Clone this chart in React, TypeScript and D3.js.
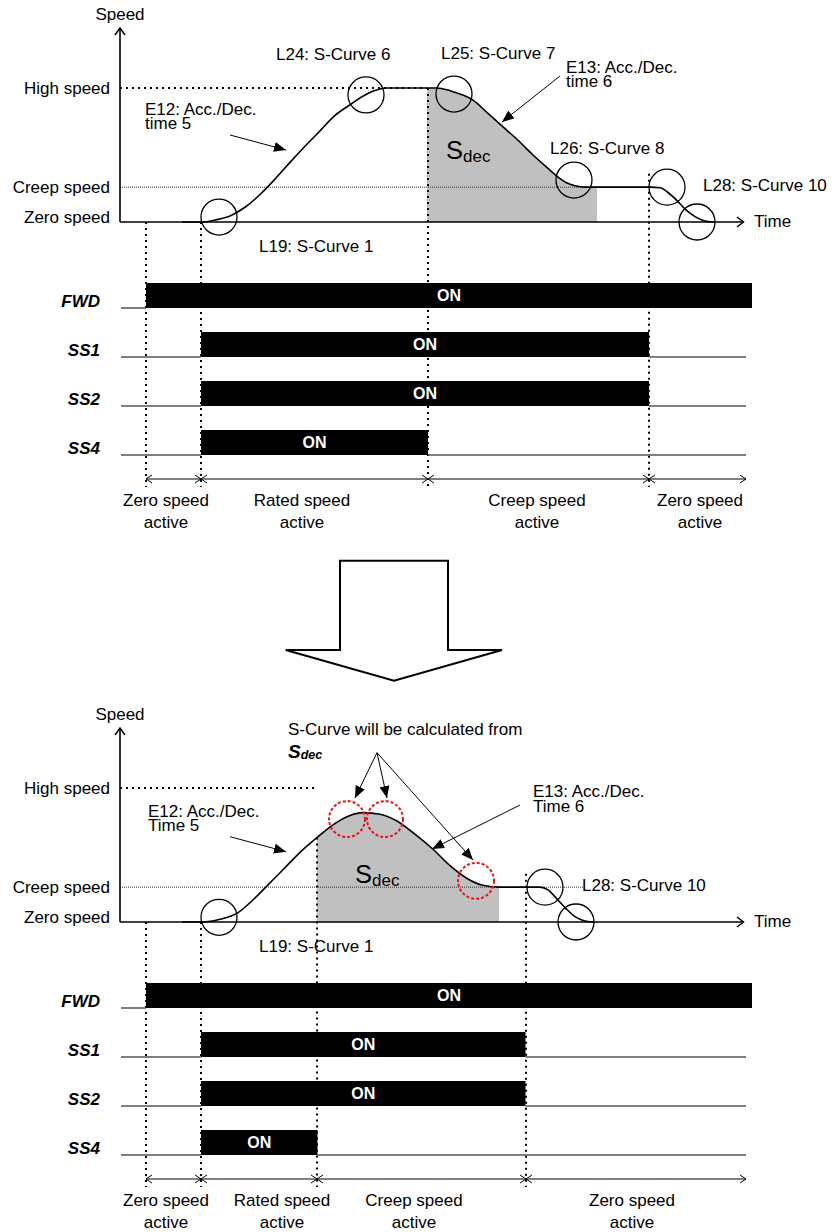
import React from "react";
import * as d3 from "d3";

const W = 832;
const H = 1232;
const FONT = "'Liberation Sans', Arial, Helvetica, sans-serif";

// ---- data: time in units (0..311), speed in % of high speed ----
const speedLevelNames = ["High speed", "Creep speed", "Zero speed"];
const speedLevelValues = [100, 26, 0];

const topProfile: [number, number][] = [
  [31, 0], [41, 0], [47.5, 1.5], [55, 4.5], [62.5, 11], [70, 20.5], [77.5, 32], [85, 44.5],
  [92.5, 56.5], [100, 68], [107.5, 79.5], [115, 87.5], [121, 93.5], [127, 98], [133.5, 100],
  [158.5, 100], [165, 98], [171, 95], [176.5, 91], [184, 81], [191.5, 71], [199, 61],
  [206.5, 50], [214, 40], [219, 33.5], [223, 29.5], [227.5, 27], [232.5, 26],
  [265, 26], [270, 25.5], [274, 22], [278.5, 16], [283, 9], [287.5, 4], [292, 1], [296.5, 0],
];
const bottomProfile: [number, number][] = [
  [31, 0], [41, 0], [50, 2], [59, 7], [66.5, 16.5], [73.5, 27], [81.5, 39], [90, 52],
  [98.5, 63], [106.5, 72.5], [115, 79.5], [121.5, 81.6], [130, 80.4], [138.5, 75.4],
  [146.5, 66.7], [156.5, 54.3], [165, 42], [173.5, 32.5], [181.5, 27.4], [190, 26], [210, 26], [214, 24],
  [218, 18], [223, 10], [227.5, 4], [232, 1], [236.5, 0],
];

const signalNames = ["FWD", "SS1", "SS2", "SS4"];
const topSignalOn: [number, number][] = [[13, 316], [40.5, 264.5], [40.5, 264.5], [40.5, 154]];
const bottomSignalOn: [number, number][] = [[13, 316], [40.5, 202.75], [40.5, 202.75], [40.5, 98.75]];
const signalEnd = 313;

const topPhaseBounds = [13, 40.5, 154, 264.5, 313];
const bottomPhaseBounds = [13, 40.5, 98.5, 203, 313];
const topMarkerStartSpeed = [0, 0, 100, 36];
const bottomMarkerStartSpeed = [0, 0, 63, 36];
const topPhaseLabels = [["Zero speed", "active"], ["Rated speed", "active"], ["Creep speed", "active"], ["Zero speed", "active"]];
const bottomPhaseLabels = [["Zero speed", "active"], ["Rated speed", "active"], ["Creep speed", "active"], ["Zero speed", "active"]];
const topPhaseLabelT = [23, 91, 208.5, 290];
const bottomPhaseLabelT = [23, 81, 147, 256];

const topShade: [number, number] = [153.5, 238.5];
const bottomShade: [number, number] = [98.5, 189.5];
const topHighLineEnd = 153.5;
const bottomHighLineEnd = 98.5;
const topCreepLineEnd = 265;
const bottomCreepLineEnd = 231.5;

const topCircles: [number, number][] = [[49.5, 3.7], [123, 94.8], [167, 95.5], [227, 31.3], [273.5, 26], [288.5, 0]];
const bottomCircles: [number, number][] = [[49.5, 3.5], [212.5, 26], [228, 0]];
const bottomRedCircles: [number, number][] = [[113.5, 76.8], [132.5, 76.8], [178, 30.7]];

// ---- scales ----
const x = d3.scaleLinear().domain([0, 311]).range([120, 742]);
const y = d3.scaleLinear().domain([0, 100]).range([222, 88]);

const line = d3.line<[number, number]>().x((d) => x(d[0])).y((d) => y(d[1])).curve(d3.curveMonotoneX);
const area = d3.area<[number, number]>().x((d) => x(d[0])).y0(y(0)).y1((d) => y(d[1])).curve(d3.curveMonotoneX);

const ROW_TOP = [283, 332, 381, 430];
const BAR_H = 25;
const PHASE_Y = 479;
const R = 18;

function Chevron({ px, py, dir }: { px: number; py: number; dir: number }) {
  return (
    <path d={`M${px - dir * 6},${py - 4}L${px},${py}L${px - dir * 6},${py + 4}`} fill="none" stroke="#000" strokeWidth={1} />
  );
}

function Arrow({ x1, y1, x2, y2, id }: { x1: number; y1: number; x2: number; y2: number; id: string }) {
  return <line x1={x1} y1={y1} x2={x2} y2={y2} stroke="#000" strokeWidth={1} markerEnd={`url(#${id})`} />;
}

function Txt({ x: tx, y: ty, children, anchor = "start", size = 17, weight = "normal", style = "normal", fill = "#000" }: any) {
  return (
    <text x={tx} y={ty} textAnchor={anchor} fontSize={size} fontWeight={weight} fontStyle={style} fill={fill} fontFamily={FONT}>
      {children}
    </text>
  );
}

function Txt2({ x: tx, y: ty, lines, gap }: { x: number; y: number; lines: string[]; gap: number }) {
  return (
    <text x={tx} y={ty} fontSize={17} fill="#000" fontFamily={FONT}>
      <tspan x={tx}>{lines[0]}</tspan>
      <tspan x={tx} dy={gap}>{lines[1]}</tspan>
    </text>
  );
}

function Panel({ dy, profile, signalOn, bounds, markerStart, phaseLabels, phaseLabelT, shade, highEnd, creepEnd, circles, redCircles, clipId, children }: any) {
  const curvePath = line(profile) || "";
  const areaPath = area(profile) || "";
  return (
    <g transform={`translate(0,${dy})`}>
      <defs>
        <clipPath id={clipId}>
          <rect x={x(shade[0])} y={0} width={x(shade[1]) - x(shade[0])} height={300} />
        </clipPath>
      </defs>
      <path d={areaPath} fill="#c0c0c0" clipPath={`url(#${clipId})`} />
      {/* speed level lines */}
      <line x1={x(0)} x2={x(highEnd)} y1={y(speedLevelValues[0])} y2={y(speedLevelValues[0])} stroke="#000" strokeWidth={2} strokeDasharray="2 4" />
      <line x1={x(0)} x2={x(creepEnd)} y1={y(speedLevelValues[1])} y2={y(speedLevelValues[1])} stroke="#333" strokeWidth={1} strokeDasharray="1 1" />
      {speedLevelNames.map((n, i) => (
        <Txt key={n} x={110} y={y(speedLevelValues[i]) + (i === 2 ? 1 : 6)} anchor="end">{n}</Txt>
      ))}
      {/* axes */}
      <line x1={x(0)} x2={x(0)} y1={y(0)} y2={28} stroke="#000" strokeWidth={1.6} />
      <path d={`M${x(0) - 5},35L${x(0)},28L${x(0) + 5},35`} fill="none" stroke="#000" strokeWidth={1.5} />
      <line x1={x(0)} x2={743} y1={y(0)} y2={y(0)} stroke="#000" strokeWidth={1.6} />
      <path d={`M737,${y(0) - 5}L743.5,${y(0)}L737,${y(0) + 5}`} fill="none" stroke="#000" strokeWidth={1.5} />
      <Txt x={120} y={19.5} anchor="middle">Speed</Txt>
      <Txt x={754} y={227}>Time</Txt>
      {/* curve */}
      <path d={curvePath} fill="none" stroke="#000" strokeWidth={1.6} />
      {circles.map((c: [number, number], i: number) => (
        <circle key={i} cx={x(c[0])} cy={y(c[1])} r={R} fill="none" stroke="#000" strokeWidth={1.3} />
      ))}
      {redCircles.map((c: [number, number], i: number) => (
        <circle key={i} cx={x(c[0])} cy={y(c[1])} r={R} fill="none" stroke="#ee1111" strokeWidth={2} strokeDasharray="3 2" />
      ))}
      {/* vertical dotted markers */}
      {bounds.slice(0, 4).map((b: number, i: number) => (
        <line key={i} x1={x(b)} x2={x(b)} y1={y(markerStart[i])} y2={487} stroke="#000" strokeWidth={2} strokeDasharray="2 4" />
      ))}
      {/* signals */}
      {signalNames.map((n, i) => {
        const top = ROW_TOP[i];
        const bot = top + BAR_H;
        const [s, e] = signalOn[i];
        return (
          <g key={n}>
            <line x1={121} x2={x(s)} y1={bot} y2={bot} stroke="#555" strokeWidth={1.5} />
            {e < signalEnd && <line x1={x(e)} x2={x(signalEnd)} y1={bot} y2={bot} stroke="#555" strokeWidth={1.5} />}
            <rect x={x(s)} y={top} width={x(e) - x(s)} height={BAR_H} fill="#000" />
            <Txt x={(x(s) + x(e)) / 2} y={top + 18} anchor="middle" size={16} weight="bold" fill="#fff">ON</Txt>
            <Txt x={100} y={bot - 1} anchor="end" weight="bold" style="italic">{n}</Txt>
          </g>
        );
      })}
      {/* phase intervals */}
      {bounds.slice(0, 4).map((b: number, i: number) => (
        <g key={i}>
          <line x1={x(b)} x2={x(bounds[i + 1])} y1={PHASE_Y} y2={PHASE_Y} stroke="#000" strokeWidth={1} />
          <Chevron px={x(b)} py={PHASE_Y} dir={-1} />
          <Chevron px={x(bounds[i + 1])} py={PHASE_Y} dir={1} />
          <Txt x={x(phaseLabelT[i])} y={506} anchor="middle">{phaseLabels[i][0]}</Txt>
          <Txt x={x(phaseLabelT[i])} y={528} anchor="middle">{phaseLabels[i][1]}</Txt>
        </g>
      ))}
      {children}
    </g>
  );
}

function Sdec({ sx, sy }: { sx: number; sy: number }) {
  return (
    <text x={sx} y={sy} fontFamily={FONT} fill="#000">
      <tspan fontSize={25.5}>S</tspan>
      <tspan fontSize={17} dy={3}>dec</tspan>
    </text>
  );
}

export default function App() {
  return (
    <svg width={W} height={H} style={{ display: "block", position: "absolute", left: 0, top: 0, background: "#fff" }}>
      <defs>
        <marker id="ah" viewBox="0 0 12 10" refX="12" refY="5" markerWidth="12" markerHeight="10" markerUnits="userSpaceOnUse" orient="auto">
          <path d="M0,0L12,5L0,10Z" fill="#000" />
        </marker>
      </defs>
      <rect x={0} y={0} width={W} height={H} fill="#fff" />
      <Panel dy={0} profile={topProfile} signalOn={topSignalOn} bounds={topPhaseBounds} markerStart={topMarkerStartSpeed}
        phaseLabels={topPhaseLabels} phaseLabelT={topPhaseLabelT} shade={topShade} highEnd={topHighLineEnd}
        creepEnd={topCreepLineEnd} circles={topCircles} redCircles={[]} clipId="clipTop">
        <Txt x={276} y={60}>L24: S-Curve 6</Txt>
        <Txt x={441} y={59}>L25: S-Curve 7</Txt>
        <Txt2 x={566} y={73} gap={14} lines={["E13: Acc./Dec.", "time 6"]} />
        <Txt x={550} y={154}>L26: S-Curve 8</Txt>
        <Txt x={703} y={191}>L28: S-Curve 10</Txt>
        <Txt2 x={145} y={115} gap={14.3} lines={["E12: Acc./Dec.", "time 5"]} />
        <Txt x={259} y={252}>L19: S-Curve 1</Txt>
        <Sdec sx={446} sy={159} />
        <Arrow x1={230} y1={135} x2={286} y2={150} id="ah" />
        <Arrow x1={560} y1={76} x2={502} y2={122} id="ah" />
      </Panel>

      {/* big down arrow */}
      <path d="M340,560.7L448,560.7L448,650L502,650L394,680.7L285.7,650L340,650Z" fill="#fff" stroke="#000" strokeWidth={2} strokeLinejoin="miter" />

      <Panel dy={700} profile={bottomProfile} signalOn={bottomSignalOn} bounds={bottomPhaseBounds} markerStart={bottomMarkerStartSpeed}
        phaseLabels={bottomPhaseLabels} phaseLabelT={bottomPhaseLabelT} shade={bottomShade} highEnd={bottomHighLineEnd}
        creepEnd={bottomCreepLineEnd} circles={bottomCircles} redCircles={bottomRedCircles} clipId="clipBottom">
        <Txt x={288} y={35}>S-Curve will be calculated from</Txt>
        <text x={288} y={57.5} fontFamily={FONT} fontWeight="bold" fontStyle="italic" fill="#000">
          <tspan fontSize={19}>S</tspan>
          <tspan fontSize={12.5} dy={1}>dec</tspan>
        </text>
        <Txt2 x={148} y={116.5} gap={14.5} lines={["E12: Acc./Dec.", "Time 5"]} />
        <Txt2 x={533} y={96.5} gap={15.5} lines={["E13: Acc./Dec.", "Time 6"]} />
        <Txt x={582} y={191}>L28: S-Curve 10</Txt>
        <Txt x={259} y={252}>L19: S-Curve 1</Txt>
        <Sdec sx={355} sy={182.5} />
        <Arrow x1={230} y1={136.7} x2={286} y2={151.7} id="ah" />
        <Arrow x1={520} y1={105} x2={432} y2={149} id="ah" />
        <Arrow x1={377} y1={52.7} x2={355} y2={98} id="ah" />
        <Arrow x1={377} y1={52.7} x2={387} y2={98} id="ah" />
        <Arrow x1={377} y1={52.7} x2={473} y2={160} id="ah" />
      </Panel>
    </svg>
  );
}
